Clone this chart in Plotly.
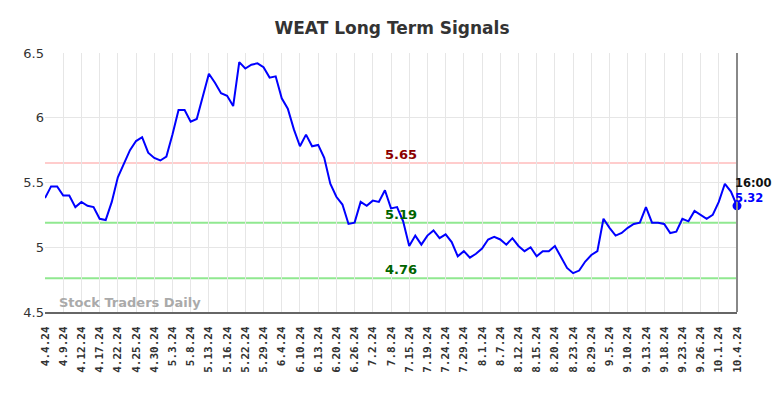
import plotly.graph_objects as go

title = "WEAT Long Term Signals"

tick_labels = ["4.4.24", "4.9.24", "4.12.24", "4.17.24", "4.22.24", "4.25.24", "4.30.24",
               "5.3.24", "5.8.24", "5.13.24", "5.16.24", "5.22.24", "5.29.24", "6.4.24",
               "6.10.24", "6.13.24", "6.20.24", "6.26.24", "7.2.24", "7.8.24", "7.15.24",
               "7.19.24", "7.24.24", "7.29.24", "8.1.24", "8.7.24", "8.12.24", "8.15.24",
               "8.20.24", "8.23.24", "8.29.24", "9.5.24", "9.10.24", "9.13.24", "9.18.24",
               "9.23.24", "9.26.24", "10.1.24", "10.4.24"]

prices = [5.38, 5.47, 5.47, 5.40, 5.40, 5.31, 5.35, 5.32, 5.31, 5.22,
          5.21, 5.35, 5.54, 5.65, 5.75, 5.82, 5.85, 5.73, 5.69, 5.67,
          5.70, 5.87, 6.06, 6.06, 5.97, 5.99, 6.16, 6.34, 6.27, 6.19,
          6.17, 6.09, 6.43, 6.38, 6.41, 6.42, 6.39, 6.31, 6.32, 6.15,
          6.07, 5.91, 5.78, 5.87, 5.78, 5.79, 5.69, 5.49, 5.39, 5.33,
          5.18, 5.19, 5.35, 5.32, 5.36, 5.35, 5.44, 5.30, 5.31, 5.20,
          5.01, 5.09, 5.02, 5.09, 5.13, 5.07, 5.10, 5.04, 4.93, 4.97,
          4.92, 4.95, 4.99, 5.06, 5.08, 5.06, 5.02, 5.07, 5.01, 4.97,
          5.00, 4.93, 4.97, 4.97, 5.01, 4.92, 4.84, 4.80, 4.82, 4.89,
          4.94, 4.97, 5.22, 5.15, 5.09, 5.11, 5.15, 5.18, 5.19, 5.31,
          5.19, 5.19, 5.18, 5.11, 5.12, 5.22, 5.20, 5.28, 5.25, 5.22,
          5.25, 5.35, 5.49, 5.43, 5.32]

levels = [5.65, 5.19, 4.76]
level_line_colors = ["#ffcccc", "#90e890", "#90e890"]
level_text_colors = ["#8b0000", "#006400", "#006400"]

last_time = "16:00"
last_price = 5.32
y_ticks = [4.5, 5, 5.5, 6, 6.5]
label_step = 3

x = list(range(len(prices)))
tick_vals = [i * label_step for i in range(len(tick_labels))]

fig = go.Figure()
fig.add_trace(go.Scatter(x=x, y=prices, mode="lines",
                         line=dict(color="#0000ff", width=2), hoverinfo="skip"))
fig.add_trace(go.Scatter(x=[x[-1]], y=[prices[-1]], mode="markers", cliponaxis=False,
                         marker=dict(color="#0000ff", size=9), hoverinfo="skip"))

for lv, lc, tc in zip(levels, level_line_colors, level_text_colors):
    fig.add_shape(type="line", xref="paper", x0=0, x1=1, yref="y", y0=lv, y1=lv,
                  line=dict(color=lc, width=2), layer="below")
    fig.add_annotation(xref="paper", x=0.515, y=lv, yref="y", text=f"<b>{lv:.2f}</b>",
                       showarrow=False, yanchor="bottom", xanchor="center", yshift=-1,
                       font=dict(family="DejaVu Sans", size=13, color=tc))

fig.add_shape(type="line", xref="paper", x0=1, x1=1, yref="paper", y0=0, y1=1,
              line=dict(color="#888888", width=2))

fig.add_annotation(x=x[-1], y=last_price, xref="x", yref="y",
                   text=f"<b>{last_time}</b><br><b><span style='color:#0000ff'>{last_price:.2f}</span></b>",
                   showarrow=False, xanchor="left", yanchor="bottom", align="left",
                   xshift=-4, yshift=-1,
                   font=dict(family="DejaVu Sans", size=11.5, color="#111111"))

fig.add_annotation(xref="paper", yref="paper", x=0.018, y=0.0, text="<b>Stock Traders Daily</b>",
                   showarrow=False, xanchor="left", yanchor="bottom",
                   font=dict(family="DejaVu Sans", size=13, color="#aaaaaa"))

fig.update_layout(
    width=784, height=398,
    margin=dict(l=45, r=47, t=53, b=86),
    paper_bgcolor="white", plot_bgcolor="white",
    showlegend=False,
    title=dict(text=f"<b>{title}</b>", x=0.5, xanchor="center", y=0.93, yanchor="middle",
               font=dict(family="DejaVu Sans", size=17, color="#333333")),
    xaxis=dict(range=[0, len(prices) - 1], tickmode="array", tickvals=tick_vals,
               ticktext=tick_labels, tickangle=-90, showgrid=True, gridcolor="#e6e6e6",
               gridwidth=1, showline=True, linecolor="#666666", linewidth=2,
               ticks="", zeroline=False, automargin=False, ticklabelstandoff=8,
               tickfont=dict(family="DejaVu Sans Mono", size=11, color="#333333", weight="bold")),
    yaxis=dict(range=[4.5, 6.5], tickmode="array", tickvals=y_ticks,
               ticktext=[f"{v:g}" for v in y_ticks], showgrid=True, gridcolor="#e6e6e6",
               gridwidth=1, zeroline=False, showline=False, ticks="", ticklen=0,
               automargin=False,
               tickfont=dict(family="DejaVu Sans", size=13, color="#333333")),
)

fig.write_html("out.html", config={"displayModeBar": False, "staticPlot": True},
               post_script="document.body.style.margin='0';")
